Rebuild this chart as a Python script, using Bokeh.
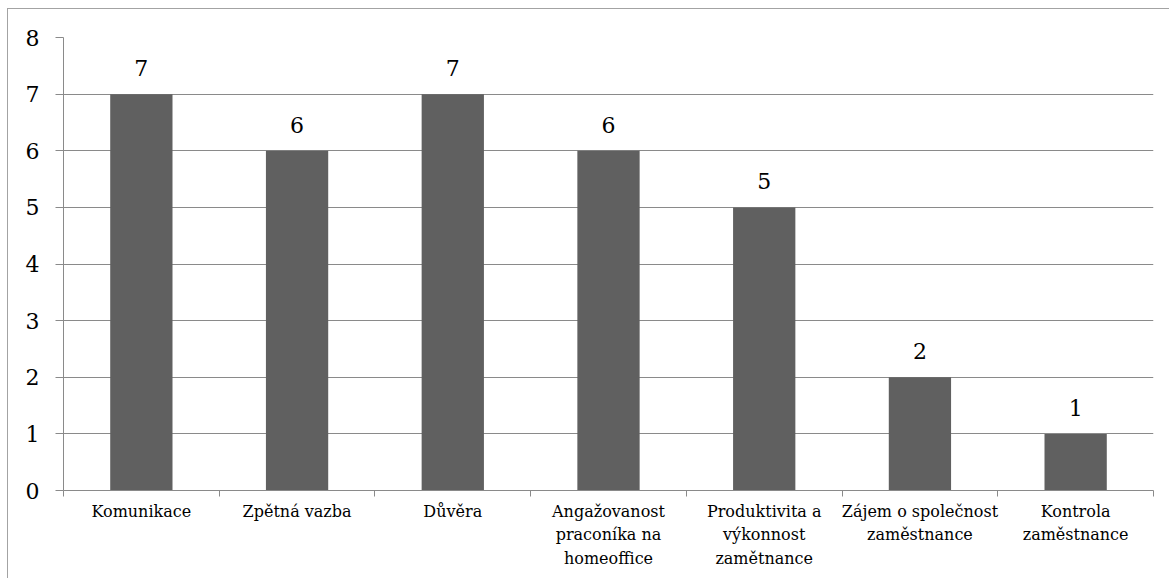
from bokeh.plotting import figure
from bokeh.models import Range1d, FixedTicker, ColumnDataSource
from bokeh.core.properties import value
from bokeh.embed import file_html
from bokeh.resources import INLINE

# Survey answers: how many respondents named each factor
categories = [
    "Komunikace",
    "Zpětná vazba",
    "Důvěra",
    "Angažovanost praconíka na homeoffice",
    "Produktivita a výkonnost zamětnance",
    "Zájem o společnost zaměstnance",
    "Kontrola zaměstnance",
]
category_labels = [
    "Komunikace",
    "Zpětná vazba",
    "Důvěra",
    "Angažovanost\npraconíka na\nhomeoffice",
    "Produktivita a\nvýkonnost\nzamětnance",
    "Zájem o společnost\nzaměstnance",
    "Kontrola\nzaměstnance",
]
counts = [7, 6, 7, 6, 5, 2, 1]
y_ticks = [0, 1, 2, 3, 4, 5, 6, 7, 8]

FONT = "DejaVu Serif"
GRID = "#8a8a8a"
BAR = "#606060"

n = len(categories)
centers = [i + 0.5 for i in range(n)]
source = ColumnDataSource(dict(
    x=centers,
    count=counts,
    label=[str(c) for c in counts],
    name=categories,
))

p = figure(
    width=1162, height=570,
    x_range=Range1d(0, n), y_range=Range1d(0, 8),
    output_backend="svg", toolbar_location=None,
    min_border_left=55, min_border_right=17,
    min_border_top=28, min_border_bottom=89,
    margin=(8, 0, 0, 7),
    styles={"border-left": "1px solid #a3a3a3", "border-top": "1px solid #a3a3a3"},
)
p.outline_line_color = None
p.background_fill_color = "white"
p.border_fill_color = "white"

p.vbar(x="x", top="count", width=0.4, source=source,
       fill_color=BAR, line_color=None)

p.text(x="x", y="count", text="label", source=source,
       text_align="center", text_baseline="alphabetic", y_offset=-26,
       text_font=value(FONT), text_font_size="22px", text_color="black")

# x axis: labels at bar centres, small ticks at category boundaries
p.xaxis.ticker = FixedTicker(ticks=centers, minor_ticks=list(range(n + 1)))
p.xaxis.major_label_overrides = {c: lab for c, lab in zip(centers, category_labels)}
p.xaxis.major_tick_line_color = None
p.xaxis.major_tick_out = 6
p.xaxis.major_tick_in = 0
p.xaxis.minor_tick_line_color = GRID
p.xaxis.minor_tick_out = 6
p.xaxis.minor_tick_in = 0
p.xaxis.axis_line_color = GRID
p.xaxis.major_label_standoff = 5
p.xaxis.major_label_text_font = FONT
p.xaxis.major_label_text_font_size = "16px"
p.xaxis.major_label_text_color = "black"
p.xaxis.major_label_text_line_height = 1.25

p.yaxis.ticker = FixedTicker(ticks=y_ticks)
p.yaxis.major_tick_line_color = GRID
p.yaxis.major_tick_out = 8
p.yaxis.major_tick_in = 0
p.yaxis.minor_tick_line_color = None
p.yaxis.axis_line_color = GRID
p.yaxis.major_label_standoff = 16
p.yaxis.major_label_text_font = FONT
p.yaxis.major_label_text_font_size = "22px"
p.yaxis.major_label_text_color = "black"

p.xgrid.grid_line_color = None
p.ygrid.grid_line_color = GRID
p.ygrid.ticker = FixedTicker(ticks=y_ticks)

open("out.html", "w").write(file_html(p, INLINE))
